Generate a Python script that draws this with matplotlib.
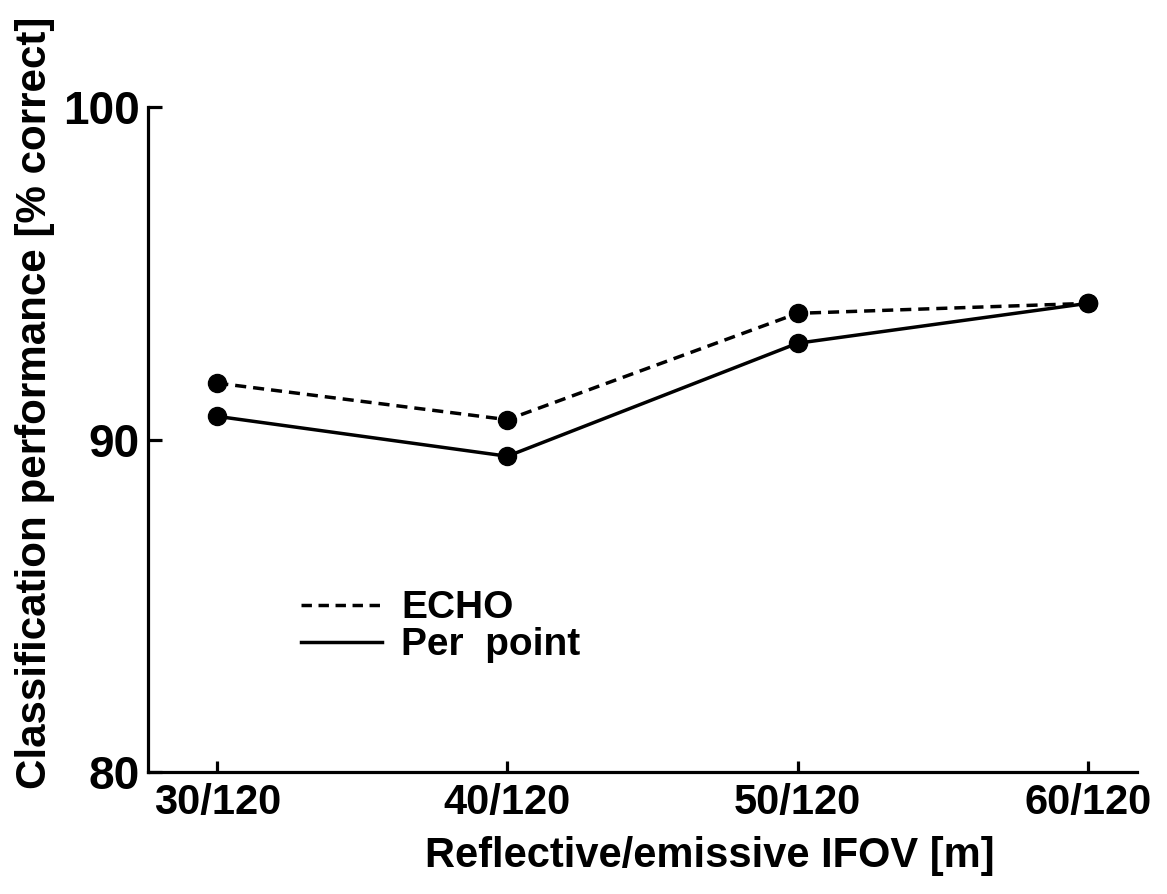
import matplotlib
matplotlib.use("Agg")
import matplotlib.pyplot as plt
from matplotlib.lines import Line2D
from matplotlib import rcParams

rcParams['font.family'] = 'Liberation Sans'
rcParams['font.weight'] = 'bold'

# Data
ifov_labels = ['30/120', '40/120', '50/120', '60/120']
echo = [91.7, 90.6, 93.8, 94.1]
per_point = [90.7, 89.5, 92.9, 94.1]
y_ticks = [80, 90, 100]

fig = plt.figure(figsize=(11.67, 8.94), dpi=100)
ax = fig.add_axes([0.127, 0.1365, 0.847, 0.7435])

x = range(len(ifov_labels))
ax.plot(x, echo, color='black', lw=2.5, ls=(0, (3.2, 2.0)),
        marker='o', ms=13, clip_on=False)
ax.plot(x, per_point, color='black', lw=2.5, ls='-',
        marker='o', ms=13, clip_on=False)

ax.set_xlim(-0.238, 3.169)
ax.set_ylim(80, 100)
ax.set_xticks(list(x))
ax.set_xticklabels(ifov_labels)
ax.set_yticks(y_ticks)

for side in ['top', 'right']:
    ax.spines[side].set_visible(False)
for side in ['left', 'bottom']:
    ax.spines[side].set_linewidth(2.3)

ax.tick_params(axis='y', direction='in', length=10, width=2.3, pad=6, labelsize=33)
ax.tick_params(axis='x', direction='in', length=8, width=2.3, pad=8, labelsize=30)

ax.set_xlabel('Reflective/emissive IFOV [m]', fontsize=30, fontweight='bold')
ax.xaxis.set_label_coords(0.568, -0.097)
ax.set_ylabel('Classification performance [% correct]', fontsize=30.3,
              fontweight='bold')
ax.yaxis.set_label_coords(-0.094, 0.555)

handles = [Line2D([], [], color='black', lw=2.5, ls=(0, (3.0, 1.9))),
           Line2D([], [], color='black', lw=2.5, ls='-')]
ax.legend(handles, ['ECHO', 'Per  point'], loc='upper left',
          bbox_to_anchor=(0.155, 0.2735), frameon=False, fontsize=28,
          handlelength=2.06, handletextpad=0.5, labelspacing=0.03,
          borderpad=0, borderaxespad=0)

fig.savefig('out.png', dpi=100)
